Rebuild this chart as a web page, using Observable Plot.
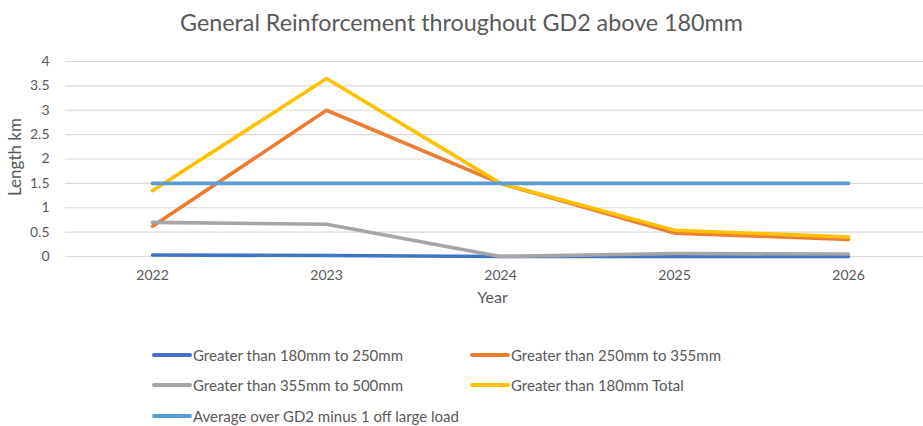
<!DOCTYPE html>
<html>
<head>
<meta charset="utf-8">
<script src="https://cdn.jsdelivr.net/npm/d3@7"></script>
<script src="https://cdn.jsdelivr.net/npm/@observablehq/plot@0.6"></script>
<style>
  html, body { margin: 0; padding: 0; background: #fff; }
  body { width: 923px; height: 426px; position: relative; overflow: hidden; font-family: Lato, "Open Sans", sans-serif; color: #595959; }
  #title { position: absolute; left: 0; top: 0; width: 923px; height: 45px; line-height: 45px; text-align: center; font-size: 23.3px; color: #595959; }
  #chart { position: absolute; left: 0; top: 45px; }
  .lg { position: absolute; font-size: 15px; color: #595959; white-space: nowrap; display: flex; align-items: center; height: 20px; }
  .sw { display: inline-block; width: 40px; height: 4px; border-radius: 2px; margin-right: 1px; }
</style>
</head>
<body>
<div id="title">General Reinforcement throughout GD2 above 180mm</div>
<div id="chart"></div>
<div id="legend"></div>
<script>
const years = ["2022", "2023", "2024", "2025", "2026"];
const seriesNames = [
  "Greater than 180mm to 250mm",
  "Greater than 250mm to 355mm",
  "Greater than 355mm to 500mm",
  "Greater than 180mm Total",
  "Average over GD2 minus 1 off large load"
];
const s180to250 = [0.03, 0.02, 0.0, 0.0, 0.0];
const s250to355 = [0.62, 3.0, 1.5, 0.48, 0.35];
const s355to500 = [0.7, 0.66, 0.0, 0.06, 0.05];
const sTotal = [1.35, 3.65, 1.5, 0.54, 0.4];
const sAverage = [1.5, 1.5, 1.5, 1.5, 1.5];
const seriesColors = ["#4472C4", "#ED7D31", "#A5A5A5", "#FFC000", "#5B9BD5"];
const yTicks = [0, 0.5, 1, 1.5, 2, 2.5, 3, 3.5, 4];

const allSeries = [s180to250, s250to355, s355to500, sTotal, sAverage];
const rows = [];
allSeries.forEach((vals, si) => {
  vals.forEach((v, i) => rows.push({series: seriesNames[si], year: years[i], value: v, order: si}));
});

const chart = Plot.plot({
  width: 923,
  height: 290,
  marginLeft: 65,
  marginRight: 0,
  marginTop: 16,
  marginBottom: 79,
  style: {fontFamily: "Lato, 'Open Sans', sans-serif", fontSize: "14px", color: "#595959", background: "transparent"},
  x: {type: "point", domain: years, padding: 0.5, range: [65, 935]},
  y: {domain: [0, 4], range: [211, 16]},
  marks: [
    Plot.ruleY(yTicks, {stroke: "#d9d9d9", strokeWidth: 1.2}),
    Plot.axisY({ticks: yTicks, tickSize: 0, tickPadding: 16, tickFormat: d => String(d), label: null, fill: "#595959", fontSize: 14}),
    Plot.axisX({tickSize: 0, tickPadding: 14, label: null, fill: "#595959", fontSize: 14}),
    ...seriesNames.map((name, si) =>
      Plot.line(rows.filter(r => r.order === si), {
        x: "year", y: "value",
        stroke: seriesColors[si], strokeWidth: 3.6,
        strokeLinecap: "round", strokeLinejoin: "round"
      })
    ),
    Plot.text(["Length km"], {frameAnchor: "left", textAnchor: "middle", dx: -50, dy: -2, rotate: -90, fontSize: 17, fill: "#595959"}),
    Plot.text(["Year"], {frameAnchor: "bottom", dx: -2, dy: 46, fontSize: 16, fill: "#595959"})
  ]
});
document.getElementById("chart").appendChild(chart);

const legendPos = [
  [152, 355], [470, 355],
  [152, 385], [470, 385],
  [152, 416]
];
const lg = document.getElementById("legend");
seriesNames.forEach((name, i) => {
  const d = document.createElement("div");
  d.className = "lg";
  d.style.left = legendPos[i][0] + "px";
  d.style.top = (legendPos[i][1] - 10) + "px";
  const sw = document.createElement("span");
  sw.className = "sw";
  sw.style.background = seriesColors[i];
  d.appendChild(sw);
  d.appendChild(document.createTextNode(name));
  lg.appendChild(d);
});
</script>
</body>
</html>
